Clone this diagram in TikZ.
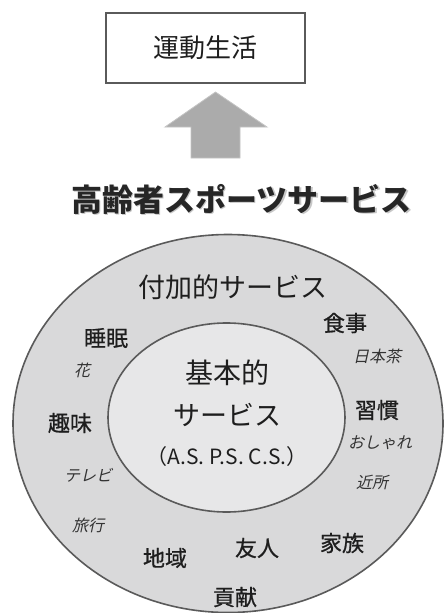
\documentclass[tikz,border=0pt]{standalone}
\usepackage{fontspec}
\setmainfont{Noto Sans CJK JP}
\newfontfamily\itfont[FakeSlant=0.22]{Noto Sans CJK JP}
\newfontfamily\medfont[FakeBold=0.8]{Noto Sans CJK JP}
\definecolor{linegray}{HTML}{5A5A5A}
\definecolor{outerfill}{HTML}{D9D9DA}
\definecolor{innerfill}{HTML}{E7E7E8}
\definecolor{arrowfill}{HTML}{ABABAB}
\definecolor{arrowline}{HTML}{C4C4C4}
\definecolor{txt}{HTML}{1E1E1E}
\definecolor{ittxt}{HTML}{333333}
\tikzset{
  lbl/.style={text=txt, inner sep=0pt, font=\medfont\fontsize{22}{24}\selectfont},
  biglbl/.style={text=txt, inner sep=0pt, font=\fontsize{27}{30}\selectfont},
  itlbl/.style={text=ittxt, inner sep=0pt, font=\itfont\fontsize{16}{18}\selectfont},
  ring/.style={draw=linegray, line width=1.6pt},
}
\begin{document}
\begin{tikzpicture}[x=1pt,y=-1pt]
\useasboundingbox (0,0) rectangle (444,613);
% top box
\node[draw=linegray, line width=2pt, fill=white, minimum width=199pt, minimum height=70pt, inner sep=0pt,
      text=txt, font=\fontsize{26}{28}\selectfont] (box) at (205,47.5) {運動生活};
% big arrow
\draw[fill=arrowfill, draw=arrowline, line width=0.8pt]
  (215.5,92) -- (267,127) -- (240,127) -- (240,158) -- (191,158) -- (191,127) -- (165,127) -- cycle;
% title
\node[text=gray!55, inner sep=0pt, font=\bfseries\fontsize{31}{33}\selectfont, opacity=0.8] (titleshadow) at (243,200.5) {高齢者スポーツサービス};
\node[text=black!85, inner sep=0pt, font=\bfseries\fontsize{31}{33}\selectfont] (title) at (241.5,199) {高齢者スポーツサービス};
% ellipses
\draw[ring, fill=outerfill] (228,423.5) ellipse [x radius=215, y radius=189] ;
\coordinate (outer) at (228,423.5);
\draw[ring, fill=innerfill] (226.5,417.5) ellipse [x radius=118.5, y radius=94.5];
\coordinate (inner) at (226.5,417.5);
% inner texts
\node[biglbl, font=\fontsize{28}{30}\selectfont] (kihon) at (227,373) {基本的};
\node[biglbl] (service) at (227,415) {サービス};
\node[text=txt, inner sep=0pt, font=\fontsize{21}{23}\selectfont] (asps) at (227,457) {（A.S. P.S. C.S.）};
% outer texts
\node[biglbl] (fuka) at (233,287) {付加的サービス};
\node[lbl] (shokuji) at (345,323) {食事};
\node[lbl] (suimin) at (106,338) {睡眠};
\node[itlbl] (nihoncha) at (377,356) {日本茶};
\node[itlbl] (hana) at (82,370) {花};
\node[lbl] (shukan) at (377,410) {習慣};
\node[lbl] (shumi) at (70,423) {趣味};
\node[itlbl] (oshare) at (380,443) {おしゃれ};
\node[itlbl] (terebi) at (88,475) {テレビ};
\node[itlbl] (kinjo) at (372,482) {近所};
\node[itlbl] (ryoko) at (88,525) {旅行};
\node[lbl] (kazoku) at (342,543) {家族};
\node[lbl] (yujin) at (257,548) {友人};
\node[lbl] (chiiki) at (165,558) {地域};
\node[lbl] (koken) at (235,597) {貢献};
\end{tikzpicture}
\end{document}
